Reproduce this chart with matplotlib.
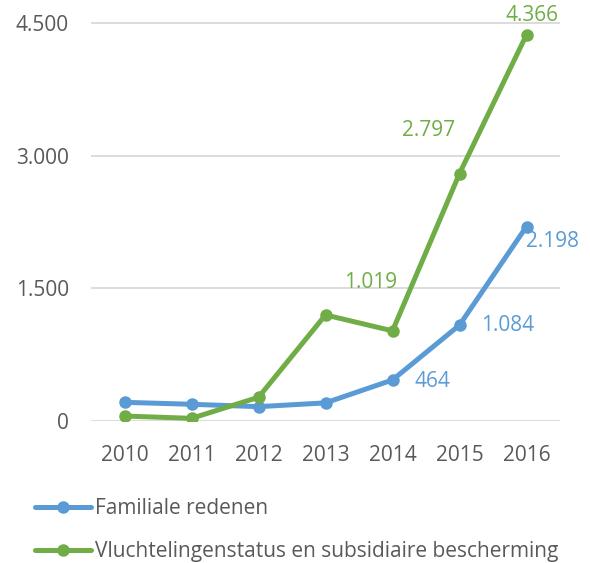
import matplotlib.pyplot as plt
from matplotlib.ticker import FuncFormatter

years = ['2010', '2011', '2012', '2013', '2014', '2015', '2016']
familiale = [211, 189, 162, 205, 464, 1084, 2198]
vluchteling = [56, 30, 268, 1199, 1019, 2797, 4366]
series_names = ['Familiale redenen', 'Vluchtelingenstatus en subsidiaire bescherming']
yticks = [0, 1500, 3000, 4500]

# which points get a data label, with offset in points
fam_labels = {4: (29, -1), 5: (35, 0), 6: (19, -11)}
vlu_labels = {4: (-16, 35), 5: (-22, 31), 6: (4, 14)}

BLUE = '#5B9BD5'
GREEN = '#70AD47'
GREY = '#595959'

plt.rcParams['font.family'] = ['Open Sans', 'DejaVu Sans']


def nl(v):
    return f'{int(v):,}'.replace(',', '.')


fig = plt.figure(figsize=(5.9, 5.63), dpi=100)
ax = fig.add_axes([91 / 590, 1 - 421 / 563, 469 / 590, 399 / 563])

x = range(len(years))
ax.plot(x, familiale, color=BLUE, lw=3.6, marker='o', ms=8,
        solid_capstyle='round', label=series_names[0], zorder=3)
ax.plot(x, vluchteling, color=GREEN, lw=3.6, marker='o', ms=8,
        solid_capstyle='round', label=series_names[1], zorder=3)

for i, off in fam_labels.items():
    ax.annotate(nl(familiale[i]), (i, familiale[i]), xytext=off,
                textcoords='offset points', ha='center', va='center',
                color=BLUE, fontsize=15)
for i, off in vlu_labels.items():
    ax.annotate(nl(vluchteling[i]), (i, vluchteling[i]), xytext=off,
                textcoords='offset points', ha='center', va='center',
                color=GREEN, fontsize=15)

ax.set_xlim(-0.5, len(years) - 0.5)
ax.set_ylim(0, 4510)
ax.set_xticks(list(x))
ax.set_xticklabels(years)
ax.set_yticks(yticks)
ax.yaxis.set_major_formatter(FuncFormatter(lambda v, p: nl(v)))
ax.tick_params(length=0, labelsize=15, colors=GREY)
ax.tick_params(axis='x', pad=17)
ax.tick_params(axis='y', pad=16)
ax.grid(axis='y', color='#D9D9D9', lw=1.3)
ax.set_axisbelow(True)
for s in ax.spines.values():
    s.set_visible(False)

fig.legend(loc='upper left', bbox_to_anchor=(35 / 590, 1 - 498 / 563),
           frameon=False, fontsize=15, handlelength=2.7, handletextpad=0.2,
           labelspacing=1.05, borderpad=0, borderaxespad=0, labelcolor=GREY)

fig.savefig('out.png', dpi=100)
